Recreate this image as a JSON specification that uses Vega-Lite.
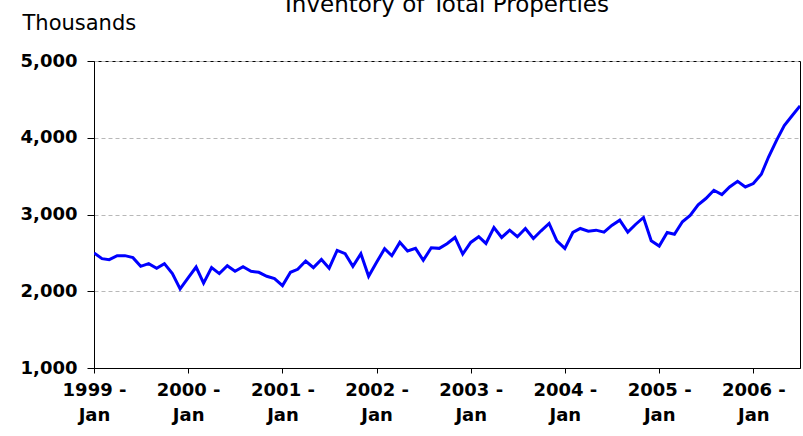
{
  "$schema": "https://vega.github.io/schema/vega-lite/v6.json",
  "width": 706,
  "height": 307,
  "autosize": {"type": "none"},
  "padding": {"left": 94, "top": 61, "right": 3, "bottom": 68},
  "background": "white",
  "title": {
    "text": "Inventory of Total Properties",
    "font": "DejaVu Sans",
    "fontSize": 23,
    "fontWeight": "normal",
    "color": "black",
    "anchor": "middle",
    "frame": "group",
    "baseline": "alphabetic",
    "offset": 0,
    "dy": 23
  },
  "config": {
    "view": {"stroke": "black", "strokeWidth": 1},
    "axis": {
      "labelFont": "DejaVu Sans",
      "labelFontSize": 18,
      "labelFontWeight": "bold",
      "labelColor": "black",
      "domainColor": "black",
      "tickColor": "black",
      "domainWidth": 1,
      "tickWidth": 1
    }
  },
  "data": {
    "values": [
      {"date": "1999-01-01", "v": 2500},
      {"date": "1999-02-01", "v": 2425},
      {"date": "1999-03-01", "v": 2412},
      {"date": "1999-04-01", "v": 2464},
      {"date": "1999-05-01", "v": 2464},
      {"date": "1999-06-01", "v": 2438},
      {"date": "1999-07-01", "v": 2325},
      {"date": "1999-08-01", "v": 2360},
      {"date": "1999-09-01", "v": 2300},
      {"date": "1999-10-01", "v": 2360},
      {"date": "1999-11-01", "v": 2230},
      {"date": "1999-12-01", "v": 2030},
      {"date": "2000-01-01", "v": 2173},
      {"date": "2000-02-01", "v": 2316},
      {"date": "2000-03-01", "v": 2105},
      {"date": "2000-04-01", "v": 2308},
      {"date": "2000-05-01", "v": 2230},
      {"date": "2000-06-01", "v": 2333},
      {"date": "2000-07-01", "v": 2260},
      {"date": "2000-08-01", "v": 2320},
      {"date": "2000-09-01", "v": 2260},
      {"date": "2000-10-01", "v": 2247},
      {"date": "2000-11-01", "v": 2195},
      {"date": "2000-12-01", "v": 2165},
      {"date": "2001-01-01", "v": 2074},
      {"date": "2001-02-01", "v": 2247},
      {"date": "2001-03-01", "v": 2286},
      {"date": "2001-04-01", "v": 2394},
      {"date": "2001-05-01", "v": 2308},
      {"date": "2001-06-01", "v": 2414},
      {"date": "2001-07-01", "v": 2300},
      {"date": "2001-08-01", "v": 2533},
      {"date": "2001-09-01", "v": 2489},
      {"date": "2001-10-01", "v": 2325},
      {"date": "2001-11-01", "v": 2489},
      {"date": "2001-12-01", "v": 2195},
      {"date": "2002-01-01", "v": 2377},
      {"date": "2002-02-01", "v": 2554},
      {"date": "2002-03-01", "v": 2463},
      {"date": "2002-04-01", "v": 2637},
      {"date": "2002-05-01", "v": 2524},
      {"date": "2002-06-01", "v": 2559},
      {"date": "2002-07-01", "v": 2403},
      {"date": "2002-08-01", "v": 2567},
      {"date": "2002-09-01", "v": 2559},
      {"date": "2002-10-01", "v": 2620},
      {"date": "2002-11-01", "v": 2701},
      {"date": "2002-12-01", "v": 2485},
      {"date": "2003-01-01", "v": 2636},
      {"date": "2003-02-01", "v": 2710},
      {"date": "2003-03-01", "v": 2623},
      {"date": "2003-04-01", "v": 2831},
      {"date": "2003-05-01", "v": 2701},
      {"date": "2003-06-01", "v": 2796},
      {"date": "2003-07-01", "v": 2710},
      {"date": "2003-08-01", "v": 2818},
      {"date": "2003-09-01", "v": 2688},
      {"date": "2003-10-01", "v": 2788},
      {"date": "2003-11-01", "v": 2883},
      {"date": "2003-12-01", "v": 2656},
      {"date": "2004-01-01", "v": 2558},
      {"date": "2004-02-01", "v": 2766},
      {"date": "2004-03-01", "v": 2818},
      {"date": "2004-04-01", "v": 2783},
      {"date": "2004-05-01", "v": 2796},
      {"date": "2004-06-01", "v": 2770},
      {"date": "2004-07-01", "v": 2857},
      {"date": "2004-08-01", "v": 2926},
      {"date": "2004-09-01", "v": 2770},
      {"date": "2004-10-01", "v": 2870},
      {"date": "2004-11-01", "v": 2961},
      {"date": "2004-12-01", "v": 2658},
      {"date": "2005-01-01", "v": 2589},
      {"date": "2005-02-01", "v": 2766},
      {"date": "2005-03-01", "v": 2742},
      {"date": "2005-04-01", "v": 2905},
      {"date": "2005-05-01", "v": 2987},
      {"date": "2005-06-01", "v": 3126},
      {"date": "2005-07-01", "v": 3208},
      {"date": "2005-08-01", "v": 3316},
      {"date": "2005-09-01", "v": 3260},
      {"date": "2005-10-01", "v": 3359},
      {"date": "2005-11-01", "v": 3433},
      {"date": "2005-12-01", "v": 3359},
      {"date": "2006-01-01", "v": 3403},
      {"date": "2006-02-01", "v": 3524},
      {"date": "2006-03-01", "v": 3749},
      {"date": "2006-04-01", "v": 3966},
      {"date": "2006-05-01", "v": 4160},
      {"date": "2006-06-01", "v": 4290},
      {"date": "2006-07-01", "v": 4416}
    ]
  },
  "mark": {"type": "line", "color": "#0000FF", "strokeWidth": 3, "clip": true},
  "encoding": {
    "x": {
      "field": "date",
      "type": "temporal",
      "scale": {
        "type": "utc",
        "nice": false,
        "domain": [
          {"year": 1999, "month": 1, "date": 1, "utc": true},
          {"year": 2006, "month": 7, "date": 1, "utc": true}
        ]
      },
      "axis": {
        "title": null,
        "values": [
          {"year": 1999, "month": 1, "date": 1, "utc": true},
          {"year": 2000, "month": 1, "date": 1, "utc": true},
          {"year": 2001, "month": 1, "date": 1, "utc": true},
          {"year": 2002, "month": 1, "date": 1, "utc": true},
          {"year": 2003, "month": 1, "date": 1, "utc": true},
          {"year": 2004, "month": 1, "date": 1, "utc": true},
          {"year": 2005, "month": 1, "date": 1, "utc": true},
          {"year": 2006, "month": 1, "date": 1, "utc": true}
        ],
        "labelExpr": "[utcFormat(datum.value, '%Y') + ' -', 'Jan']",
        "labelFlush": false,
        "labelOverlap": false,
        "labelLineHeight": 25,
        "labelBaseline": "top",
        "labelPadding": 8,
        "tickSize": 5,
        "grid": false
      }
    },
    "y": {
      "field": "v",
      "type": "quantitative",
      "scale": {"domain": [1000, 5000], "nice": false, "zero": false},
      "axis": {
        "values": [1000, 2000, 3000, 4000, 5000],
        "format": ",d",
        "tickSize": 7,
        "labelPadding": 10,
        "grid": true,
        "gridColor": "#b8b8b8",
        "gridDash": [4, 3],
        "gridWidth": 1,
        "title": "Thousands",
        "titleFont": "DejaVu Sans",
        "titleFontSize": 21,
        "titleFontWeight": "normal",
        "titleColor": "black",
        "titleAngle": 0,
        "titleAlign": "left",
        "titleBaseline": "alphabetic",
        "titleX": -72,
        "titleY": -32
      }
    }
  }
}
